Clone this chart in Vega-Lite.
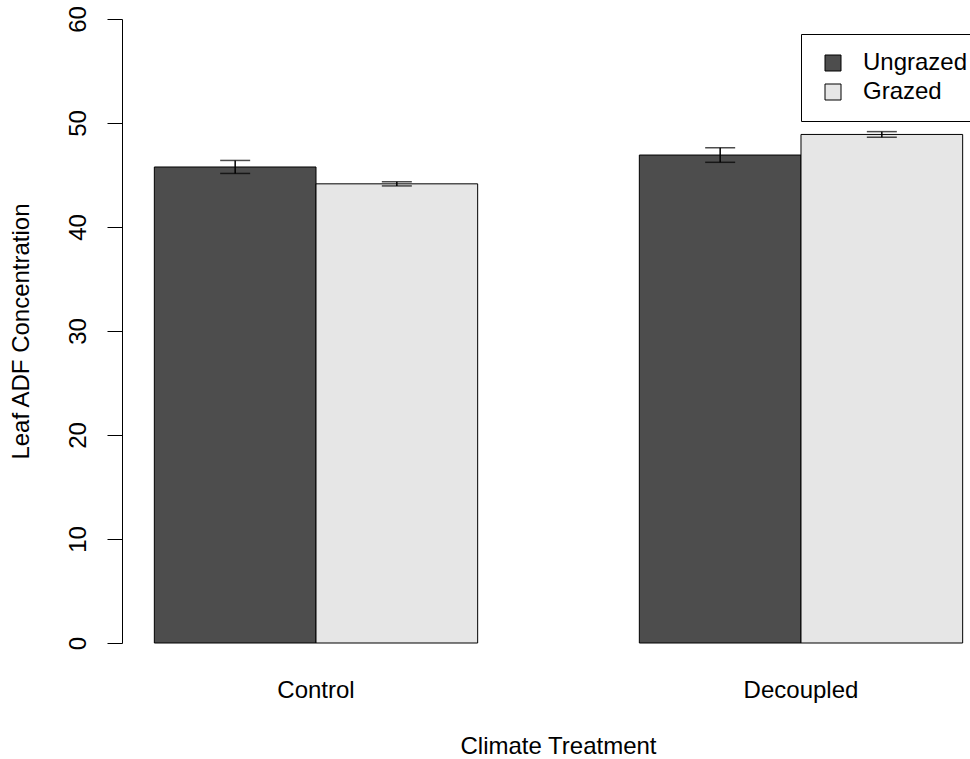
{
  "$schema": "https://vega.github.io/schema/vega-lite/v6.json",
  "width": 848,
  "height": 624,
  "autosize": {"type": "none"},
  "padding": {"left": 122, "top": 19, "right": 0, "bottom": 116},
  "background": "white",
  "config": {
    "view": {"stroke": null},
    "font": "Liberation Sans",
    "axis": {"labelFont": "Liberation Sans", "titleFont": "Liberation Sans", "labelColor": "black", "titleColor": "black", "titleFontWeight": "normal", "labelFontSize": 24, "titleFontSize": 24, "grid": false}
  },
  "data": {
    "values": [
      {"treatment": "Control", "grazing": "Ungrazed", "mean": 45.77, "lo": 45.15, "hi": 46.4},
      {"treatment": "Control", "grazing": "Grazed", "mean": 44.15, "lo": 43.95, "hi": 44.35},
      {"treatment": "Decoupled", "grazing": "Ungrazed", "mean": 46.92, "lo": 46.22, "hi": 47.62},
      {"treatment": "Decoupled", "grazing": "Grazed", "mean": 48.9, "lo": 48.63, "hi": 49.17}
    ]
  },
  "encoding": {
    "x": {
      "field": "treatment",
      "type": "nominal",
      "sort": ["Control", "Decoupled"],
      "scale": {"range": [0, 873], "paddingInner": 0.33333, "paddingOuter": 0.06667},
      "axis": {
        "title": "Climate Treatment",
        "labelAngle": 0,
        "domain": false,
        "ticks": false,
        "tickSize": 0,
        "labelPadding": 54,
        "labelBaseline": "alphabetic",
        "titleBaseline": "alphabetic",
        "titleY": 110,
        "titleX": 436
      }
    },
    "xOffset": {
      "field": "grazing",
      "type": "nominal",
      "sort": ["Ungrazed", "Grazed"],
      "scale": {"paddingInner": 0, "paddingOuter": 0}
    }
  },
  "layer": [
    {
      "mark": {"type": "bar", "stroke": "black", "strokeWidth": 1, "opacity": 1},
      "encoding": {
        "y": {
          "field": "mean",
          "type": "quantitative",
          "scale": {"domain": [0, 60], "nice": false, "zero": true},
          "axis": {
            "title": "Leaf ADF Concentration",
            "values": [0, 10, 20, 30, 40, 50, 60],
            "tickSize": 15,
            "tickColor": "black",
            "domainColor": "black",
            "tickWidth": 1,
            "domainWidth": 1,
            "labelAngle": 270,
            "labelAlign": "center",
            "labelBaseline": "alphabetic",
            "labelPadding": 22,
            "titleAngle": 270,
            "titleBaseline": "alphabetic",
            "titleAlign": "center",
            "titleX": -94,
            "titleY": 312
          }
        },
        "color": {
          "field": "grazing",
          "type": "nominal",
          "scale": {"domain": ["Ungrazed", "Grazed"], "range": ["#4D4D4D", "#E6E6E6"]},
          "legend": {
            "title": null,
            "orient": "none",
            "legendX": 679,
            "legendY": 15,
            "strokeColor": "black",
            "fillColor": "white",
            "padding": 17,
            "symbolType": "square",
            "symbolSize": 256,
            "symbolStrokeColor": "black",
            "symbolStrokeWidth": 1,
            "symbolOpacity": 1,
            "labelFontSize": 24,
            "labelFont": "Liberation Sans",
            "labelColor": "black",
            "labelOffset": 18,
            "rowPadding": 5,
            "symbolOffset": 3
          }
        }
      }
    },
    {
      "mark": {"type": "rule", "color": "black", "strokeWidth": 1.5},
      "encoding": {
        "y": {"field": "lo", "type": "quantitative"},
        "y2": {"field": "hi"}
      }
    },
    {
      "mark": {"type": "tick", "color": "black", "size": 30, "thickness": 1.5, "orient": "horizontal"},
      "encoding": {"y": {"field": "lo", "type": "quantitative"}}
    },
    {
      "mark": {"type": "tick", "color": "black", "size": 30, "thickness": 1.5, "orient": "horizontal"},
      "encoding": {"y": {"field": "hi", "type": "quantitative"}}
    }
  ]
}
